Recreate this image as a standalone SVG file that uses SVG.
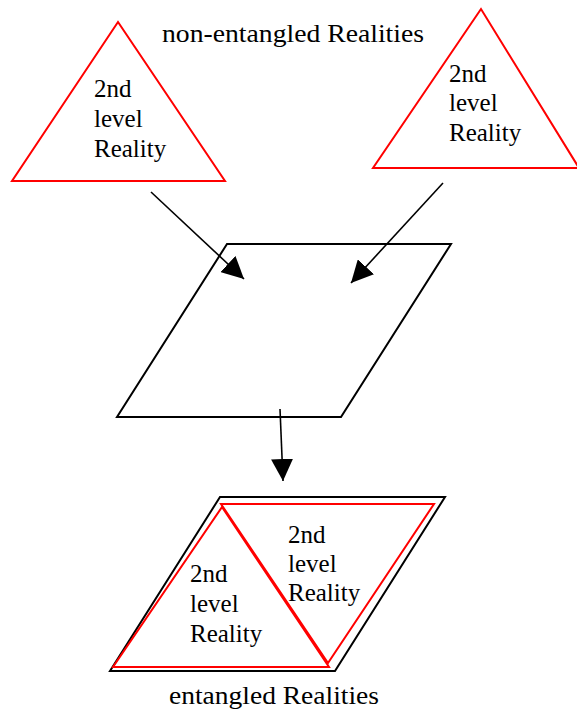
<svg xmlns="http://www.w3.org/2000/svg" width="577" height="710" viewBox="0 0 577 710">
<defs>
<style>
.tri{fill:none;stroke:#ff0000;stroke-width:2}
.par{fill:none;stroke:#000;stroke-width:2}
.lbl{font-family:"Liberation Serif","Times New Roman",serif;font-size:25px;fill:#000}
.ttl{font-family:"Liberation Serif","Times New Roman",serif;font-size:25px;fill:#000}
.con{stroke:#000;stroke-width:1.6;fill:none}
</style>
<marker id="ah" markerWidth="22" markerHeight="22" viewBox="0 0 22 22" refX="22" refY="11" orient="auto" markerUnits="userSpaceOnUse">
<path d="M0,0 L22,11 L0,22 Z" fill="#000"/>
</marker>
</defs>
<rect width="577" height="710" fill="#fff"/>
<g id="title-top"><text class="ttl" x="162" y="42" textLength="262" lengthAdjust="spacingAndGlyphs">non-entangled Realities</text></g>
<g id="triangle-left">
<polygon class="tri" points="118,22 12,181 225,181"/>
<text class="lbl" x="94" y="97">2nd</text>
<text class="lbl" x="94" y="127">level</text>
<text class="lbl" x="94" y="157">Reality</text>
</g>
<g id="triangle-right">
<polygon class="tri" points="481,9 373,168 579,168"/>
<text class="lbl" x="449" y="82">2nd</text>
<text class="lbl" x="449" y="111">level</text>
<text class="lbl" x="449" y="141">Reality</text>
</g>
<g id="merge">
<polygon class="par" points="227,244 451,244 341,417 117,417"/>
</g>
<g id="entangled">
<polygon class="par" points="220,497 445,497 335,671 110,671"/>
<polygon class="tri" points="221,504 434,504 328,663"/>
<polygon class="tri" points="222,507 113,667 329,667"/>
<text class="lbl" x="190" y="582">2nd</text>
<text class="lbl" x="190" y="612">level</text>
<text class="lbl" x="190" y="642">Reality</text>
<text class="lbl" x="288" y="543">2nd</text>
<text class="lbl" x="288" y="572">level</text>
<text class="lbl" x="288" y="601">Reality</text>
</g>
<g id="title-bottom"><text class="ttl" x="169" y="704" textLength="210" lengthAdjust="spacingAndGlyphs">entangled Realities</text></g>
<g id="connectors">
<line class="con" x1="151" y1="192" x2="244" y2="279" marker-end="url(#ah)"/>
<line class="con" x1="443" y1="183" x2="351" y2="283" marker-end="url(#ah)"/>
<line class="con" x1="280" y1="409" x2="283" y2="481" marker-end="url(#ah)"/>
</g>
</svg>
